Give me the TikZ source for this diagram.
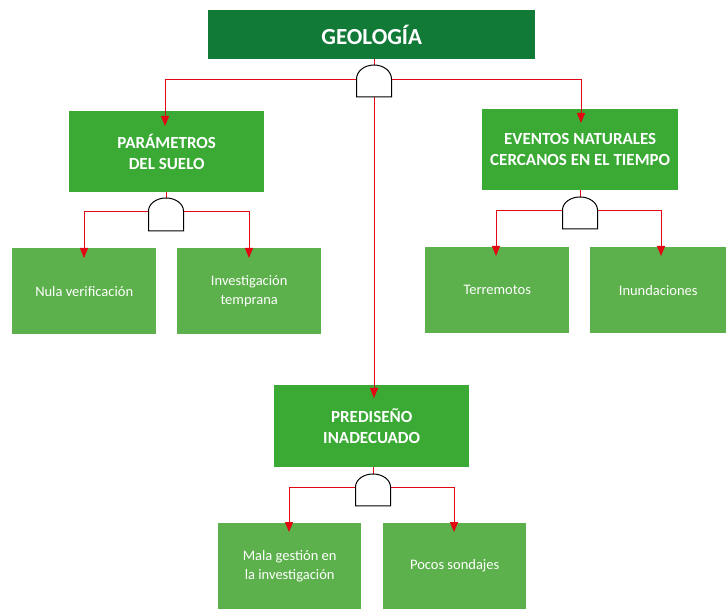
\documentclass[tikz,border=0pt]{standalone}
\usepackage{fontspec}
\setmainfont{Carlito}
\usetikzlibrary{arrows.meta}
\definecolor{topgreen}{HTML}{117A37}
\definecolor{midgreen}{HTML}{3AAA35}
\definecolor{leafgreen}{HTML}{5DB14C}
\definecolor{linkred}{HTML}{E30613}
\tikzset{
  box/.style={anchor=north west, inner sep=2pt, align=center, text=white},
  topbox/.style={box, fill=topgreen, font=\bfseries\fontsize{23}{27}\selectfont},
  midbox/.style={box, fill=midgreen, font=\bfseries\fontsize{17}{21}\selectfont},
  leafbox/.style={box, fill=leafgreen, font=\fontsize{14.5}{19}\selectfont},
  link/.style={draw=linkred, line width=0.9pt},
  arrowlink/.style={link, -{Triangle[width=8pt,length=10pt]}},
  andgate/.style={draw=black, line width=1pt, fill=white}
}
% AND gate: centre x, top y, bottom y, arm level y
\newcommand{\andgateat}[4]{%
  \draw[andgate] (#1-17.5,#3) -- (#1-17.5,#4)
    arc[start angle=180, end angle=360, x radius=17.5, y radius=#4-#2] -- (#1+17.5,#3) -- cycle;}
\begin{document}
\begin{tikzpicture}[x=1pt,y=-1pt]
\useasboundingbox (0,0) rectangle (726,609);

% boxes
\node[topbox, minimum width=327pt, minimum height=49pt] (geo) at (208,10) {GEOLOG\'IA};
\node[midbox, minimum width=195pt, minimum height=81pt] (param) at (69,111) {PAR\'AMETROS\\DEL SUELO};
\node[midbox, minimum width=196pt, minimum height=81pt] (event) at (482,109) {EVENTOS NATURALES\\CERCANOS EN EL TIEMPO};
\node[midbox, minimum width=195pt, minimum height=82pt] (pred) at (274,385) {PREDISE\~NO\\INADECUADO};
\node[leafbox, minimum width=144pt, minimum height=86pt] (nula) at (12,248) {Nula verificaci\'on};
\node[leafbox, minimum width=144pt, minimum height=86pt] (inv) at (177,248) {Investigaci\'on\\temprana};
\node[leafbox, minimum width=144pt, minimum height=86pt] (terr) at (425,247) {Terremotos};
\node[leafbox, minimum width=136pt, minimum height=86pt] (inun) at (590,247) {Inundaciones};
\node[leafbox, minimum width=143pt, minimum height=86pt] (mala) at (218,523) {Mala gesti\'on en\\la investigaci\'on};
\node[leafbox, minimum width=143pt, minimum height=86pt] (poco) at (383,523) {Pocos sondajes};

% gate anchor points
\coordinate (g1t) at (374,65);  \coordinate (g1b) at (374,97);
\coordinate (g1l) at (357,79);  \coordinate (g1r) at (392,79);
\coordinate (g2t) at (166,198); \coordinate (g2b) at (166,231);
\coordinate (g2l) at (149,211); \coordinate (g2r) at (184,211);
\coordinate (g3t) at (580,197); \coordinate (g3b) at (580,229);
\coordinate (g3l) at (563,210); \coordinate (g3r) at (598,210);
\coordinate (g4t) at (373,474); \coordinate (g4b) at (373,506);
\coordinate (g4l) at (356,487); \coordinate (g4r) at (390,487);

% connectors
\draw[link] (geo.south -| g1t) -- (g1t);
\draw[arrowlink] (g1l) -| ([yshift=-15pt]param.north -| 165,0);
\draw[arrowlink] (g1r) -| ([yshift=-14pt]event.north -| 581,0);
\draw[arrowlink] (g1b) -- ([yshift=-13pt]pred.north -| g1b);

\draw[link] (param.south -| g2t) -- (g2t);
\draw[arrowlink] (g2l) -| ([yshift=-10pt]nula.north -| 84,0);
\draw[arrowlink] (g2r) -| ([yshift=-10pt]inv.north -| 249,0);

\draw[link] (event.south -| g3t) -- (g3t);
\draw[arrowlink] (g3l) -| ([yshift=-9pt]terr.north -| 496,0);
\draw[arrowlink] (g3r) -| ([yshift=-9pt]inun.north -| 661,0);

\draw[link] (pred.south -| g4t) -- (g4t);
\draw[arrowlink] (g4l) -| ([yshift=-9pt]mala.north -| 289,0);
\draw[arrowlink] (g4r) -| ([yshift=-9pt]poco.north -| 454,0);

% AND gates
\andgateat{374}{65}{97}{79}
\andgateat{166}{198}{231}{211}
\andgateat{580}{197}{229}{210}
\andgateat{373}{474}{506}{487}
\end{tikzpicture}
\end{document}
